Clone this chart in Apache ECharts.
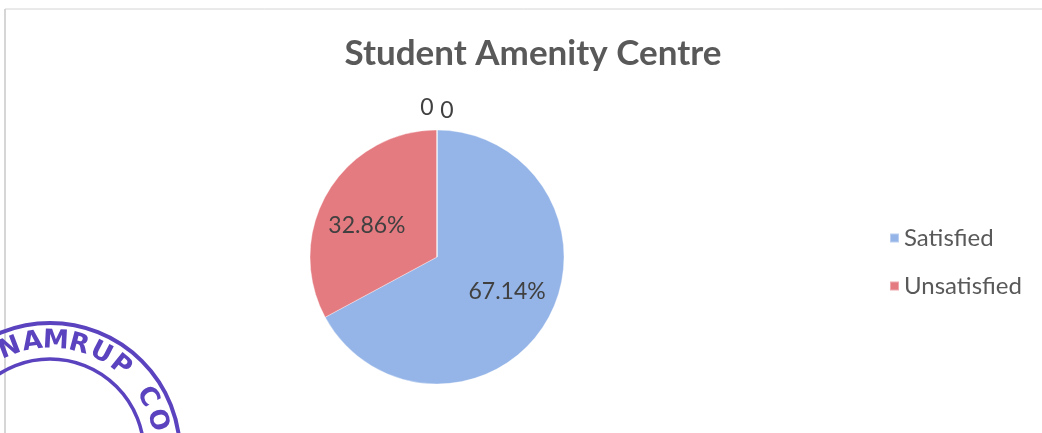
<!DOCTYPE html>
<html>
<head>
<meta charset="utf-8">
<script src="https://cdn.jsdelivr.net/npm/echarts@6/dist/echarts.min.js"></script>
<style>
  html, body { margin: 0; padding: 0; background: #ffffff; }
  #chart { width: 1042px; height: 433px; }
</style>
</head>
<body>
<div id="chart"></div>
<script>
// Survey responses for the Student Amenity Centre (percent of respondents)
const categories = ['Satisfied', 'Unsatisfied', 'Neutral', 'No Response'];
const percentages = [67.14, 32.86, 0, 0];
const legendItems = ['Satisfied', 'Unsatisfied'];
const sliceColors = ['#95b5e8', '#e47b81', '#a9c66b', '#9b85c4'];

const chartTitle = 'Student Amenity Centre';
const stampText = 'NAMRUP CO';

const chart = echarts.init(document.getElementById('chart'), null, { renderer: 'canvas' });

const pieCenter = [437, 257];
const pieRadius = 127;
const labelFont = 'Lato, "Open Sans", sans-serif';

// Seal stamped over the lower-left corner: two rings with lettering between them
const stampColor = '#5b43bf';
const stampCx = 50, stampCy = 453;
const stampLetterAngles = [-21, -9, 3, 15, 27, 39, 0, 60, 73];
const stampGraphics = [
  { type: 'circle', shape: { cx: stampCx, cy: stampCy, r: 130 },
    style: { fill: 'none', stroke: stampColor, lineWidth: 4 }, z: 10 },
  { type: 'circle', shape: { cx: stampCx, cy: stampCy, r: 94 },
    style: { fill: 'none', stroke: stampColor, lineWidth: 3.5 }, z: 10 }
];
stampText.split('').forEach(function (ch, i) {
  if (ch === ' ') return;
  const a = stampLetterAngles[i] * Math.PI / 180;
  const rr = 112;
  stampGraphics.push({
    type: 'text',
    x: stampCx + rr * Math.sin(a),
    y: stampCy - rr * Math.cos(a),
    rotation: -a,
    z: 10,
    style: {
      text: ch, fill: stampColor,
      font: 'bold 26px "DejaVu Sans", sans-serif',
      align: 'center', verticalAlign: 'middle'
    }
  });
});

// small nudges for the in-slice percentage labels
const labelNudge = [[13, 0], [-13, 3]];

const option = {
  backgroundColor: '#ffffff',
  animation: false,
  title: {
    text: chartTitle,
    left: 528, top: 31, textAlign: 'center',
    textStyle: { fontFamily: labelFont, fontWeight: 'bold', fontSize: 35, color: '#595959' }
  },
  color: sliceColors,
  legend: {
    data: legendItems,
    orient: 'vertical',
    left: 884, top: 221,
    itemWidth: 9, itemHeight: 9, itemGap: 24,
    icon: 'rect',
    textStyle: { fontFamily: labelFont, fontSize: 24, color: '#595959' }
  },
  graphic: [
    // chart area frame (top and left edges)
    { type: 'line', shape: { x1: 5, y1: 9, x2: 1042, y2: 9 }, style: { stroke: '#d4d4d4', lineWidth: 1 } },
    { type: 'line', shape: { x1: 5, y1: 9, x2: 5, y2: 433 }, style: { stroke: '#c8c8c8', lineWidth: 1.5 } }
  ].concat(stampGraphics),
  series: [{
    type: 'pie',
    center: pieCenter,
    radius: pieRadius,
    startAngle: 90,
    clockwise: true,
    avoidLabelOverlap: false,
    stillShowZeroSum: true,
    minShowLabelAngle: 0,
    itemStyle: { borderColor: 'rgba(255,255,255,0.35)', borderWidth: 1 },
    label: {
      position: 'inside',
      formatter: function (p) { return p.value === 0 ? '0' : p.value.toFixed(2) + '%'; },
      fontFamily: labelFont,
      fontSize: 23,
      color: '#404040'
    },
    labelLine: { show: false },
    labelLayout: function (params) {
      const r = params.labelRect;
      const lx = r.x + r.width / 2, ly = r.y + r.height / 2;
      if (percentages[params.dataIndex] === 0) {
        // zero-share slices sit at the top seam; put their labels just above it
        const side = params.dataIndex === 2 ? -1 : 1;
        return {
          dx: pieCenter[0] + side * 10 - lx,
          dy: pieCenter[1] - pieRadius - 22 + (side > 0 ? 3 : 0) - ly
        };
      }
      const n = labelNudge[params.dataIndex];
      return { dx: n[0], dy: n[1] };
    },
    data: categories.map(function (name, i) {
      return { name: name, value: percentages[i] };
    })
  }]
};

chart.setOption(option);
</script>
</body>
</html>
